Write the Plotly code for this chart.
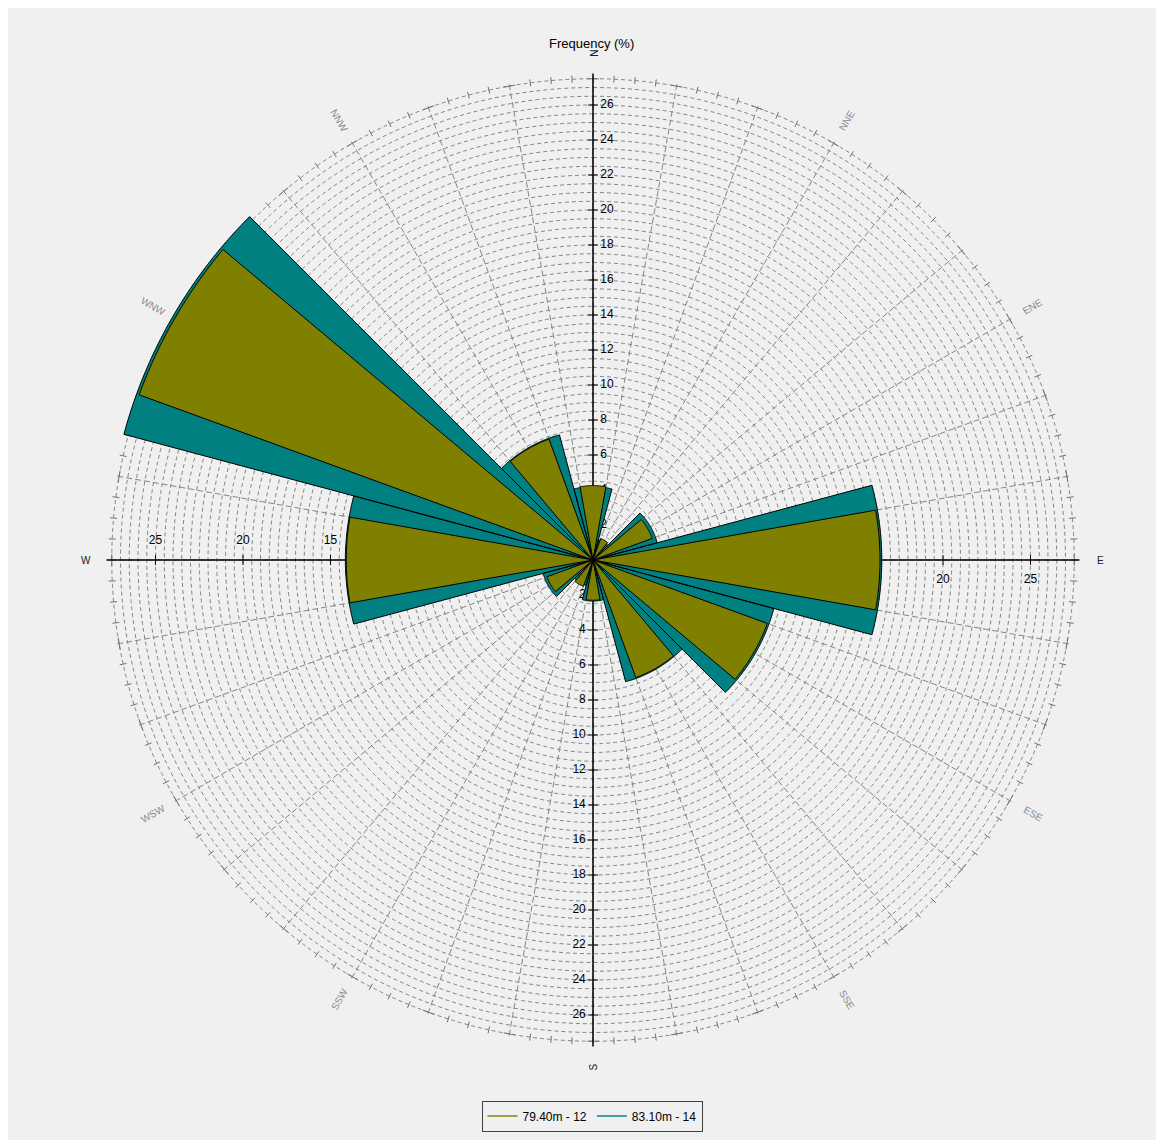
import numpy as np
import plotly.graph_objects as go

# ---------------- data ----------------
directions = ["N", "NNE", "ENE", "E", "ESE", "SSE", "S", "SSW", "WSW", "W", "WNW", "NNW"]
sector_deg = [0, 30, 60, 90, 120, 150, 180, 210, 240, 270, 300, 330]
freq_79m = [4.25, 1.3, 3.6, 16.4, 10.6, 7.15, 2.3, 1.6, 2.8, 14.1, 27.6, 7.35]
freq_83m = [4.2, 1.2, 3.8, 16.5, 10.7, 7.2, 2.35, 1.5, 2.95, 14.15, 27.75, 7.4]
series_names = ["79.40m - 12", "83.10m - 14"]
ns_ticks = list(range(2, 27, 2))
ew_ticks = [5, 10, 15, 20, 25]

# ---------------- layout constants ----------------
PAGE_OFF = 8               # browser body margin
W, H = 1148, 1132
CX, CY = 593 - PAGE_OFF, 560 - PAGE_OFF   # centre of the rose in figure px
PPU = 17.5                 # px per % unit
R_RANGE = 28.0
R_GRID = 27.5
R_AXIS = 27.8
R_LABEL = 29.0
OLIVE = "#808000"
TEAL = "#008080"
GRID = "#858585"
BG = "#f0f0f0"
FONT = "Liberation Sans"


def px_to_paper(xp, yp):
    return xp / W, 1 - yp / H


fig = go.Figure()

# grid circles every 0.5
cr, ct = [], []
circ_theta = np.arange(0, 361, 1.0)
for r in np.arange(0.5, R_GRID + 0.001, 0.5):
    cr += [r] * len(circ_theta) + [None]
    ct += list(circ_theta) + [None]
fig.add_trace(go.Scatterpolar(r=cr, theta=ct, mode="lines", hoverinfo="skip",
                              line=dict(color=GRID, width=1, dash="4px,3px"), showlegend=False))

# spokes every 10 degrees
sr, st = [], []
for a in range(0, 360, 10):
    sr += [0, R_GRID + 0.25, None]
    st += [a, a, None]
fig.add_trace(go.Scatterpolar(r=sr, theta=st, mode="lines", hoverinfo="skip",
                              line=dict(color=GRID, width=1, dash="6px,3px"), showlegend=False))

# outer minor ticks every 2.5 deg, tangential ticks at spokes
tr, tt = [], []
for a in np.arange(0, 360, 2.5):
    if a % 10 == 0:
        tr += [R_GRID, R_GRID, None]
        tt += [a - 0.7, a + 0.7, None]
    else:
        tr += [R_GRID - 0.2, R_GRID + 0.2, None]
        tt += [a, a, None]
fig.add_trace(go.Scatterpolar(r=tr, theta=tt, mode="lines", hoverinfo="skip",
                              line=dict(color="#707070", width=1), showlegend=False))

# main axes
fig.add_trace(go.Scatterpolar(r=[R_AXIS, 0, R_AXIS, None, R_AXIS, 0, R_AXIS],
                              theta=[0, 0, 180, None, 90, 90, 270],
                              mode="lines", hoverinfo="skip",
                              line=dict(color="black", width=1.5), showlegend=False))

# axis tick marks and labels
fig.add_trace(go.Scatterpolar(r=ns_ticks + ns_ticks, theta=[0] * len(ns_ticks) + [180] * len(ns_ticks),
                              mode="markers", hoverinfo="skip",
                              marker=dict(symbol="line-ew", size=7, line=dict(color="black", width=1)),
                              showlegend=False))
fig.add_trace(go.Scatterpolar(r=ew_ticks + ew_ticks, theta=[90] * len(ew_ticks) + [270] * len(ew_ticks),
                              mode="markers", hoverinfo="skip",
                              marker=dict(symbol="line-ns", size=7, line=dict(color="black", width=1)),
                              showlegend=False))
tick_font = dict(family=FONT, size=12, color="black")
clear = "rgba(0,0,0,0)"
fig.add_trace(go.Scatterpolar(r=ns_ticks, theta=[0] * len(ns_ticks), mode="markers+text",
                              marker=dict(size=10, color=clear),
                              text=[str(v) for v in ns_ticks], textposition="middle right",
                              textfont=tick_font, hoverinfo="skip", showlegend=False))
fig.add_trace(go.Scatterpolar(r=ns_ticks, theta=[180] * len(ns_ticks), mode="markers+text",
                              marker=dict(size=10, color=clear),
                              text=[str(v) for v in ns_ticks], textposition="middle left",
                              textfont=tick_font, hoverinfo="skip", showlegend=False))
fig.add_trace(go.Scatterpolar(r=ew_ticks, theta=[270] * len(ew_ticks), mode="markers+text",
                              marker=dict(size=20, color=clear),
                              text=[str(v) for v in ew_ticks], textposition="top center",
                              textfont=tick_font, hoverinfo="skip", showlegend=False))
fig.add_trace(go.Scatterpolar(r=ew_ticks, theta=[90] * len(ew_ticks), mode="markers+text",
                              marker=dict(size=20, color=clear),
                              text=[str(v) for v in ew_ticks], textposition="bottom center",
                              textfont=tick_font, hoverinfo="skip", showlegend=False))


# bars as filled wedges (so they sit above the grid, in trace order)
def wedges(values, centers, width):
    rr, tt_ = [], []
    for v, c in zip(values, centers):
        arc = np.linspace(c - width / 2, c + width / 2, int(width * 2) + 1)
        rr += [0] + [v] * len(arc) + [0, None]
        tt_ += [c] + list(arc) + [c, None]
    return rr, tt_


r83, t83 = wedges(freq_83m, sector_deg, 30)
fig.add_trace(go.Scatterpolar(r=r83, theta=t83, mode="lines", fill="toself", fillcolor=TEAL,
                              line=dict(color="black", width=1), name=series_names[1],
                              showlegend=False, connectgaps=False))
r79, t79 = wedges(freq_79m, sector_deg, 20)
fig.add_trace(go.Scatterpolar(r=r79, theta=t79, mode="lines", fill="toself", fillcolor=OLIVE,
                              line=dict(color="black", width=1), name=series_names[0],
                              showlegend=False, connectgaps=False))

# legend entries (line symbols)
fig.add_trace(go.Scatterpolar(r=[None], theta=[None], mode="lines", name=series_names[0],
                              line=dict(color="#a0a040", width=2)))
fig.add_trace(go.Scatterpolar(r=[None], theta=[None], mode="lines", name=series_names[1],
                              line=dict(color="#40a0a0", width=2)))

# direction labels (annotations, rotated radially)
annotations = []
for name, b in zip(directions, sector_deg):
    rad = np.deg2rad(b)
    xp = CX + R_LABEL * PPU * np.sin(rad)
    yp = CY - R_LABEL * PPU * np.cos(rad)
    if b == 90 or b == 270:
        ang = 0
    elif 0 < b < 180:
        ang = b - 90
    else:
        ang = (b + 180) % 360 - 90
    cardinal = name in ("N", "E", "S", "W")
    x, y = px_to_paper(xp, yp)
    annotations.append(dict(x=x, y=y, xref="paper", yref="paper",
                            text=name, showarrow=False, textangle=ang,
                            font=dict(family=FONT, size=10, color="#202020" if cardinal else "#8a8a8a"),
                            xanchor="center", yanchor="middle"))
tx, ty = px_to_paper(591 - PAGE_OFF, 43 - PAGE_OFF)
annotations.append(dict(x=tx, y=ty, xref="paper", yref="paper", text="Frequency (%)",
                        showarrow=False, font=dict(family=FONT, size=13, color="black"),
                        xanchor="center", yanchor="middle"))

lx, ly = px_to_paper(592 - PAGE_OFF, 1116 - PAGE_OFF)
rad_px = R_RANGE * PPU
fig.update_layout(
    width=W, height=H,
    margin=dict(l=0, r=0, t=0, b=0),
    paper_bgcolor=BG, plot_bgcolor=BG,
    polar=dict(
        domain=dict(x=[(CX - rad_px) / W, (CX + rad_px) / W],
                    y=[(H - CY - rad_px) / H, (H - CY + rad_px) / H]),
        bgcolor=BG,
        radialaxis=dict(range=[0, R_RANGE], showgrid=False, showline=False,
                        showticklabels=False, ticks=""),
        angularaxis=dict(direction="clockwise", rotation=90, showgrid=False, showline=False,
                         showticklabels=False, ticks=""),
    ),
    legend=dict(orientation="h", x=lx, xanchor="center", y=ly, yanchor="middle",
                bgcolor=BG, bordercolor="#404040", borderwidth=1, itemwidth=30,
                font=dict(family=FONT, size=12, color="black")),
    annotations=annotations,
    showlegend=True,
)

fig.write_html("out.html")
